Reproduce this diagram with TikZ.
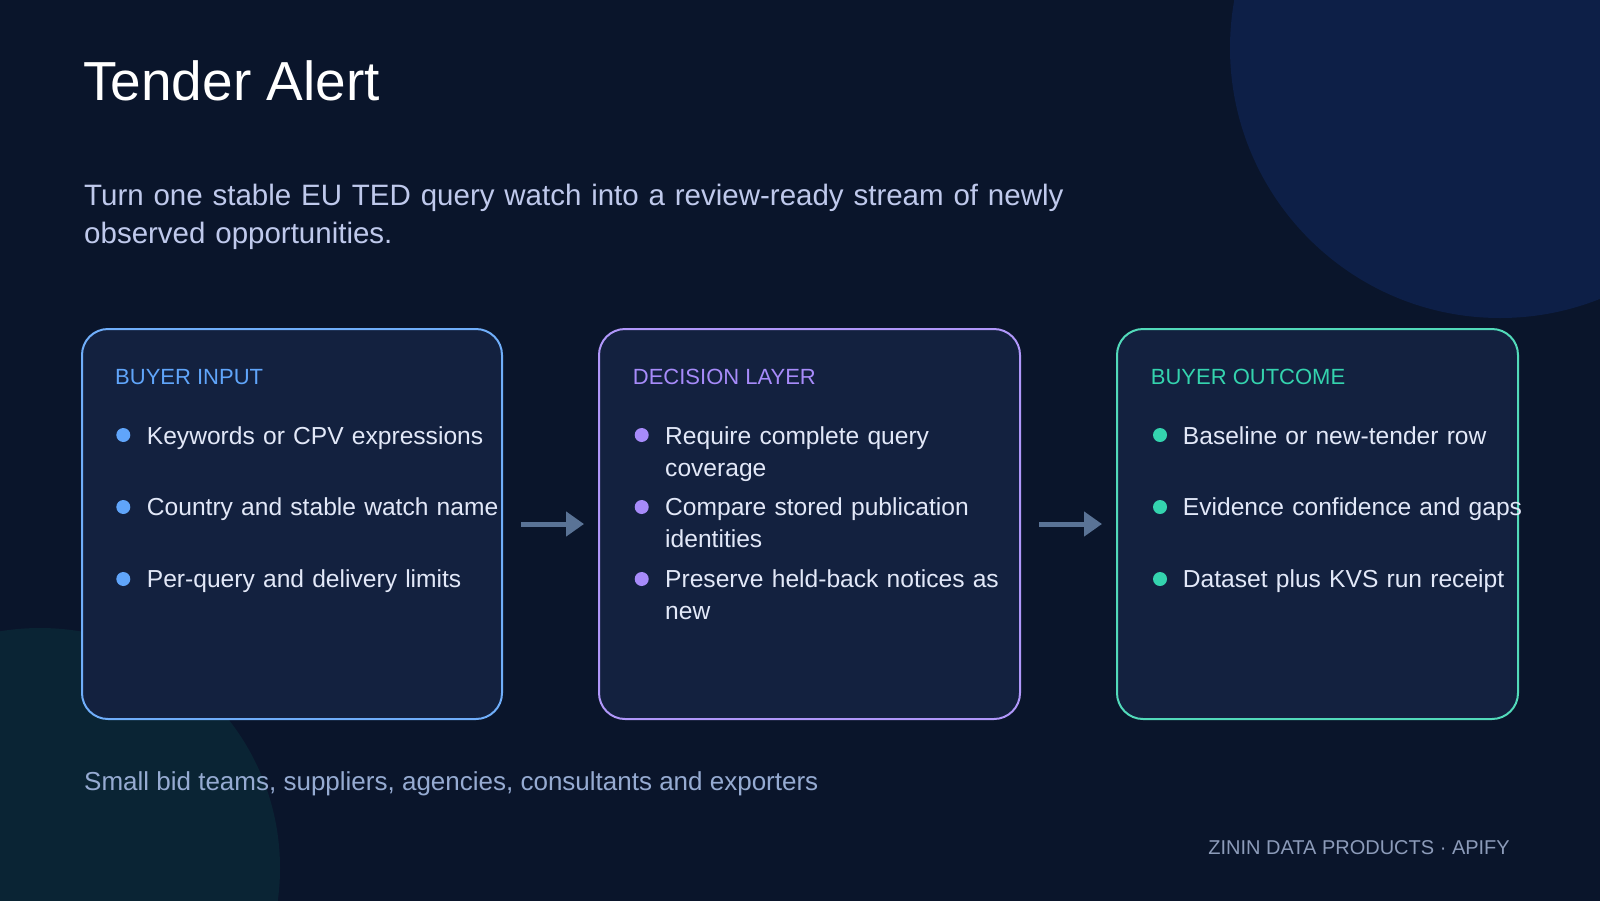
\documentclass[tikz,border=0pt]{standalone}
\usepackage{fontspec}
\setmainfont{Liberation Sans}
\usetikzlibrary{arrows.meta}
\definecolor{slideBg}{HTML}{0A152B}
\definecolor{orbNavy}{HTML}{0D1F47}
\definecolor{orbTeal}{HTML}{0A2434}
\definecolor{panelFill}{HTML}{13213F}
\definecolor{inputBlue}{HTML}{60A5FA}
\definecolor{decisionViolet}{HTML}{A78BFA}
\definecolor{outcomeTeal}{HTML}{34D3AE}
\definecolor{itemColor}{HTML}{E2E8F8}
\definecolor{leadColor}{HTML}{BFC9EC}
\definecolor{audienceColor}{HTML}{96ABD2}
\definecolor{brandColor}{HTML}{8C9BB9}
\definecolor{flowSlate}{HTML}{5A7396}
\tikzset{
  >={Triangle[length=18pt,width=24pt]},
  panel/.style={rounded corners=26pt, line width=2pt, fill=panelFill,
                minimum height=390pt, inner sep=0pt},
  panelLabel/.style={anchor=base west, inner sep=0pt,
                     font=\fontsize{22}{26}\selectfont},
  itemText/.style={anchor=base west, inner sep=0pt, text=itemColor,
                   text width=380pt, align=left,
                   font=\fontsize{24.6}{32}\selectfont},
  flow/.style={->, draw=flowSlate, line width=5pt,
               shorten <=18pt, shorten >=14pt}
}

\begin{document}
\begin{tikzpicture}[x=1pt, y=-1pt]

% ------------------------------------------------------------
% BACKGROUND
% ------------------------------------------------------------
\useasboundingbox (0,0) rectangle (1600,900);
\fill[slideBg] (-10,-10) rectangle (1610,910);
\fill[orbNavy] (1500,48) circle (270pt);
\fill[orbTeal] (40,868) circle (240pt);

% ------------------------------------------------------------
% HEADER
% ------------------------------------------------------------
\node[anchor=base west, inner sep=0pt, text=white,
      font=\fontsize{55}{60}\selectfont] (title) at (83,100.7) {Tender Alert};
\node[anchor=base west, inner sep=0pt, text=leadColor, text width=1100pt,
      align=left, font=\fontsize{29.5}{38}\selectfont] (lead) at (84,205)
{Turn one stable EU TED query watch into a review-ready stream of newly\\
observed opportunities.};

% ------------------------------------------------------------
% PANELS
% ------------------------------------------------------------
\node[panel, draw=inputBlue!90, minimum width=420pt] (inbox) at (292,524) {};
\node[panel, draw=decisionViolet!90, minimum width=421pt] (decbox) at (809.5,524) {};
\node[panel, draw=outcomeTeal!85!white, minimum width=401pt] (outbox) at (1317.5,524) {};

\draw[flow] (inbox) -- (decbox);
\draw[flow] (decbox) -- (outbox);

% buyer input
\node[panelLabel, text=inputBlue] (inLabel) at (115,384) {BUYER INPUT};
\fill[inputBlue] (123.3,435) circle (7pt);
\fill[inputBlue] (123.3,507) circle (7pt);
\fill[inputBlue] (123.3,579) circle (7pt);
\node[itemText] (inA) at (146.7,444) {Keywords or CPV expressions};
\node[itemText] (inB) at (146.7,515) {Country and stable watch name};
\node[itemText] (inC) at (146.7,587) {Per-query and delivery limits};

% decision layer
\node[panelLabel, text=decisionViolet] (decLabel) at (632.7,384) {DECISION LAYER};
\fill[decisionViolet] (641.7,435) circle (7pt);
\fill[decisionViolet] (641.7,507) circle (7pt);
\fill[decisionViolet] (641.7,579) circle (7pt);
\node[itemText] (decA) at (665,444) {Require complete query\\coverage};
\node[itemText] (decB) at (665,515) {Compare stored publication\\identities};
\node[itemText] (decC) at (665,587) {Preserve held-back notices as\\new};

% buyer outcome
\node[panelLabel, text=outcomeTeal] (outLabel) at (1150.7,384) {BUYER OUTCOME};
\fill[outcomeTeal] (1160,435) circle (7pt);
\fill[outcomeTeal] (1160,507) circle (7pt);
\fill[outcomeTeal] (1160,579) circle (7pt);
\node[itemText] (outA) at (1182.7,444) {Baseline or new-tender row};
\node[itemText] (outB) at (1182.7,515) {Evidence confidence and gaps};
\node[itemText] (outC) at (1182.7,587) {Dataset plus KVS run receipt};

% ------------------------------------------------------------
% FOOTER
% ------------------------------------------------------------
\node[anchor=base west, inner sep=0pt, text=audienceColor,
      font=\fontsize{26}{30}\selectfont] (audience) at (84,790)
{Small bid teams, suppliers, agencies, consultants and exporters};
\node[anchor=base east, inner sep=0pt, text=brandColor,
      font=\fontsize{20}{24}\selectfont] (brand) at (1510,854.3)
{ZININ DATA PRODUCTS · APIFY};

\end{tikzpicture}
\end{document}
